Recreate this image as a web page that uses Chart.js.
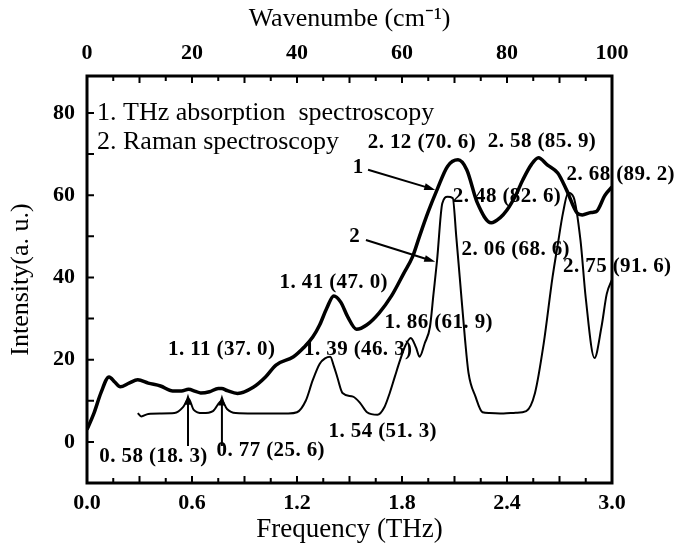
<!DOCTYPE html>
<html>
<head>
<meta charset="utf-8">
<script src="https://cdn.jsdelivr.net/npm/chart.js@4.4.0/dist/chart.umd.min.js"></script>
<style>
  body { margin: 0; background: #fff; }
  #caixa { width: 676px; height: 546px; }
</style>
</head>
<body>
<div id="caixa"><canvas id="grafico" width="676" height="546"></canvas></div>
<script>
// curva 1: absorcao THz (linha grossa)
var freqTHz = [0.00, 0.04, 0.08, 0.126, 0.16, 0.19, 0.24, 0.29, 0.35, 0.42, 0.49, 0.54, 0.58, 0.62, 0.65, 0.70, 0.75, 0.77, 0.80, 0.86, 0.95, 1.02, 1.08, 1.18, 1.24, 1.29, 1.33, 1.37, 1.41, 1.45, 1.49, 1.54, 1.60, 1.67, 1.74, 1.81, 1.86, 1.90, 1.95, 2.00, 2.06, 2.12, 2.17, 2.23, 2.31, 2.36, 2.40, 2.45, 2.49, 2.54, 2.58, 2.63, 2.69, 2.74, 2.80, 2.83, 2.88, 2.91, 2.96, 3.00];
var intensTHz = [3.0, 7.0, 12.0, 15.8, 14.5, 13.4, 14.3, 15.1, 14.3, 13.6, 12.4, 12.4, 12.8, 12.3, 11.9, 12.2, 13.0, 13.0, 12.5, 11.8, 13.3, 15.8, 18.7, 20.7, 23.0, 25.5, 28.5, 32.5, 35.5, 34.0, 30.4, 27.4, 28.5, 31.4, 35.5, 41.0, 45.0, 50.0, 56.0, 61.3, 67.0, 68.6, 66.2, 58.2, 53.3, 54.5, 56.4, 60.0, 63.7, 67.5, 69.1, 67.4, 65.4, 61.3, 55.7, 55.2, 55.8, 56.0, 60.0, 62.0];

// curva 2: Raman (linha fina)
var freqRaman = [0.29, 0.31, 0.35, 0.42, 0.50, 0.55, 0.58, 0.61, 0.66, 0.72, 0.77, 0.80, 0.85, 0.95, 1.05, 1.15, 1.20, 1.25, 1.29, 1.33, 1.36, 1.39, 1.41, 1.43, 1.46, 1.52, 1.56, 1.60, 1.66, 1.70, 1.73, 1.76, 1.79, 1.82, 1.85, 1.88, 1.90, 1.93, 1.96, 1.98, 2.00, 2.03, 2.06, 2.09, 2.11, 2.13, 2.16, 2.18, 2.22, 2.26, 2.30, 2.38, 2.45, 2.51, 2.56, 2.61, 2.66, 2.69, 2.72, 2.75, 2.78, 2.82, 2.85, 2.90, 2.94, 2.97, 3.00];
var intensRaman = [7.0, 6.2, 6.8, 6.9, 7.0, 8.5, 10.5, 7.8, 7.0, 7.5, 10.0, 8.0, 7.0, 6.9, 6.9, 6.9, 7.2, 10.0, 15.0, 19.0, 20.3, 20.7, 18.5, 15.8, 11.9, 11.0, 9.5, 7.2, 6.6, 8.5, 11.9, 16.0, 20.0, 23.5, 25.3, 23.0, 20.7, 24.0, 28.0, 36.0, 44.0, 58.0, 59.6, 59.3, 50.0, 40.0, 25.0, 16.8, 11.0, 7.2, 7.0, 6.9, 7.1, 7.5, 11.9, 24.0, 40.0, 48.0, 55.7, 60.6, 59.6, 49.0, 35.0, 20.4, 28.0, 36.0, 39.5];

// rotulos dos eixos
var ticksFreq = [0.0, 0.6, 1.2, 1.8, 2.4, 3.0];
var ticksOnda = [0, 20, 40, 60, 80, 100];
var ticksIntens = [0, 20, 40, 60, 80];

// anotacoes dos picos (posicao em THz / intensidade)
var notasTexto = ["2. 12 (70. 6)", "2. 58 (85. 9)", "2. 48 (82. 6)", "2. 68 (89. 2)", "2. 06 (68. 6)", "2. 75 (91. 6)", "1. 41 (47. 0)", "1. 11 (37. 0)", "1. 39 (46. 3)", "1. 86 (61. 9)", "1. 54 (51. 3)", "0. 58 (18. 3)", "0. 77 (25. 6)", "1", "2"];
var notasX = [1.914, 2.60, 2.40, 3.05, 2.45, 3.03, 1.41, 0.77, 1.55, 2.01, 1.69, 0.38, 1.05, 1.55, 1.53];
var notasY = [72.7, 73.0, 59.6, 65.0, 46.7, 42.6, 38.7, 22.4, 22.4, 29.0, 2.4, -3.6, -2.2, 66.7, 49.9];

// setas: inicio -> ponta
var setaX1 = [1.606, 1.594, 0.577, 0.771];
var setaY1 = [66.2, 49.1, -1.0, -1.0];
var setaX2 = [1.99, 1.99, 0.577, 0.771];
var setaY2 = [61.3, 43.8, 11.7, 11.5];

// legenda
var legendaTexto = ["1. THz absorption  spectroscopy", "2. Raman spectroscopy"];
var legendaY = [80, 73];

var fonteSerif = "'Liberation Serif', 'Times New Roman', serif";

function montarPontos(xs, ys) {
  var pts = [];
  for (var i = 0; i < xs.length; i++) {
    pts.push({ x: xs[i], y: ys[i] });
  }
  return pts;
}

function desenharSeta(ctx, x1, y1, x2, y2) {
  var ang = Math.atan2(y2 - y1, x2 - x1);
  var tam = 11;
  ctx.beginPath();
  ctx.moveTo(x1, y1);
  ctx.lineTo(x2 - Math.cos(ang) * 6, y2 - Math.sin(ang) * 6);
  ctx.stroke();
  ctx.beginPath();
  ctx.moveTo(x2, y2);
  ctx.lineTo(x2 - tam * Math.cos(ang) + 3.5 * Math.sin(ang), y2 - tam * Math.sin(ang) - 3.5 * Math.cos(ang));
  ctx.lineTo(x2 - tam * Math.cos(ang) - 3.5 * Math.sin(ang), y2 - tam * Math.sin(ang) + 3.5 * Math.cos(ang));
  ctx.closePath();
  ctx.fill();
}

var pluginMoldura = {
  id: "moldura",
  afterDraw: function (chart) {
    var ctx = chart.ctx;
    var a = chart.chartArea;
    var sx = chart.scales.x;
    var sx2 = chart.scales.x2;
    var sy = chart.scales.y;
    ctx.save();
    ctx.strokeStyle = "#000";
    ctx.fillStyle = "#000";

    // marcas para dentro
    ctx.lineWidth = 2;
    ctx.beginPath();
    for (var i = 1; i < 20; i++) {
      var px = sx.getPixelForValue(i * 0.15);
      var len = (i % 2 == 0) ? 7 : 5;
      ctx.moveTo(px, a.bottom);
      ctx.lineTo(px, a.bottom - len);
    }
    for (var j = 1; j < 20; j++) {
      var px2 = sx2.getPixelForValue(j * 5);
      var len2 = (j % 2 == 0) ? 7 : 5;
      ctx.moveTo(px2, a.top);
      ctx.lineTo(px2, a.top + len2);
    }
    for (var k = 0; k <= 80; k += 10) {
      var py = sy.getPixelForValue(k);
      ctx.moveTo(a.left, py);
      ctx.lineTo(a.left + 7, py);
    }
    ctx.stroke();

    // moldura
    ctx.lineWidth = 3;
    ctx.strokeRect(a.left, a.top, a.right - a.left, a.bottom - a.top);

    // legenda
    ctx.font = "26px " + fonteSerif;
    ctx.textAlign = "left";
    ctx.textBaseline = "middle";
    for (var m = 0; m < legendaTexto.length; m++) {
      ctx.fillText(legendaTexto[m], a.left + 10, sy.getPixelForValue(legendaY[m]));
    }

    // anotacoes
    ctx.font = "bold 21px " + fonteSerif;
    ctx.letterSpacing = "0.4px";
    ctx.textAlign = "center";
    for (var n = 0; n < notasTexto.length; n++) {
      ctx.fillText(notasTexto[n], sx.getPixelForValue(notasX[n]), sy.getPixelForValue(notasY[n]));
    }
    ctx.letterSpacing = "0px";

    // setas
    ctx.lineWidth = 2;
    for (var s = 0; s < setaX1.length; s++) {
      desenharSeta(ctx,
        sx.getPixelForValue(setaX1[s]), sy.getPixelForValue(setaY1[s]),
        sx.getPixelForValue(setaX2[s]), sy.getPixelForValue(setaY2[s]));
    }
    ctx.restore();
  }
};

var fonteTick = { family: fonteSerif, weight: "bold", size: 22 };
var fonteTitulo = { family: fonteSerif, size: 26 };

new Chart(document.getElementById("grafico").getContext("2d"), {
  type: "line",
  data: {
    datasets: [
      {
        label: "THz",
        data: montarPontos(freqTHz, intensTHz),
        borderColor: "#000",
        borderWidth: 3.5,
        pointRadius: 0,
        cubicInterpolationMode: "monotone",
        xAxisID: "x",
        yAxisID: "y"
      },
      {
        label: "Raman",
        data: montarPontos(freqRaman, intensRaman),
        borderColor: "#000",
        borderWidth: 2,
        pointRadius: 0,
        cubicInterpolationMode: "monotone",
        xAxisID: "x",
        yAxisID: "y"
      }
    ]
  },
  options: {
    responsive: false,
    animation: false,
    layout: { padding: { left: 0, right: 64, top: 0, bottom: 0 } },
    plugins: { legend: { display: false }, tooltip: { enabled: false } },
    scales: {
      x: {
        type: "linear",
        position: "bottom",
        min: 0,
        max: 3,
        grid: { display: false, drawTicks: false },
        border: { display: false },
        afterBuildTicks: function (s) { s.ticks = ticksFreq.map(function (v) { return { value: v }; }); },
        afterFit: function (s) { s.height = 63; },
        ticks: {
          color: "#000",
          font: fonteTick,
          padding: 7,
          maxRotation: 0,
          callback: function (v) { return v.toFixed(1); }
        },
        title: { display: true, text: "Frequency (THz)", color: "#000", font: { family: fonteSerif, size: 27 }, padding: { top: 0, bottom: 0 } }
      },
      x2: {
        type: "linear",
        position: "top",
        min: 0,
        max: 100,
        grid: { display: false, drawTicks: false },
        border: { display: false },
        afterBuildTicks: function (s) { s.ticks = ticksOnda.map(function (v) { return { value: v }; }); },
        afterFit: function (s) { s.height = 76; },
        ticks: { color: "#000", font: fonteTick, padding: 9, maxRotation: 0 },
        title: { display: true, text: "Wavenumbe (cm\u207B\u00B9)", color: "#000", font: fonteTitulo, padding: { top: 4, bottom: 0 } }
      },
      y: {
        type: "linear",
        position: "left",
        min: -10,
        max: 89,
        grid: { display: false, drawTicks: false },
        border: { display: false },
        afterBuildTicks: function (s) { s.ticks = ticksIntens.map(function (v) { return { value: v }; }); },
        afterFit: function (s) { s.width = 87; },
        ticks: { color: "#000", font: fonteTick, padding: 12 },
        title: { display: true, text: "Intensity(a. u.)", color: "#000", font: fonteTitulo, padding: { top: 6, bottom: 0 } }
      }
    }
  },
  plugins: [pluginMoldura]
});
</script>
</body>
</html>
